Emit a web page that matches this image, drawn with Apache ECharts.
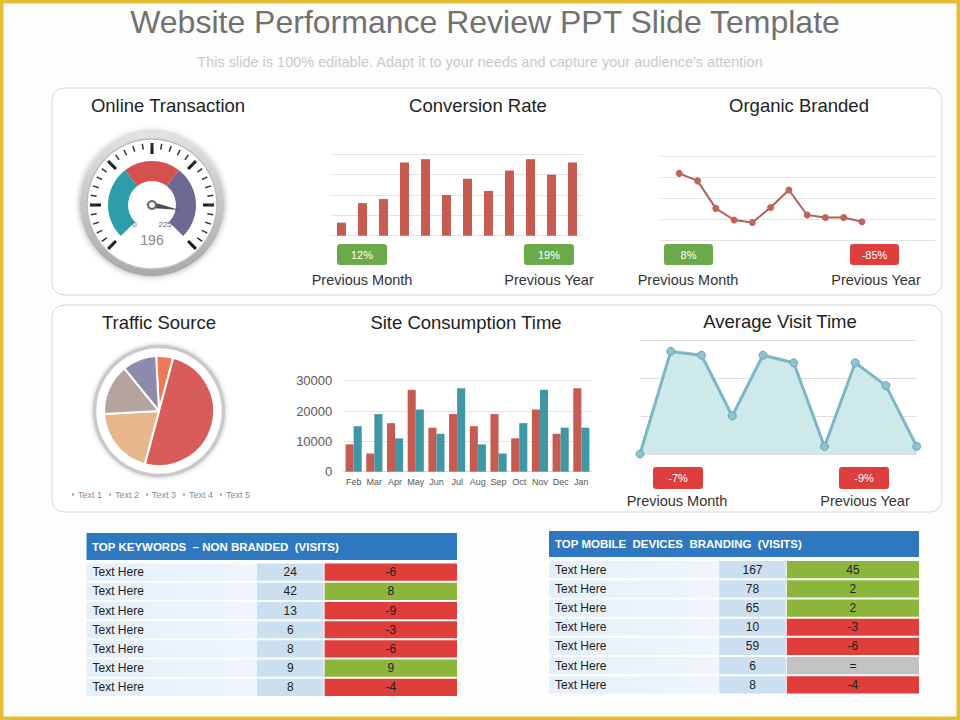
<!DOCTYPE html>
<html><head><meta charset="utf-8">
<script src="https://cdn.jsdelivr.net/npm/echarts@6/dist/echarts.min.js"></script>
<style>html,body{margin:0;padding:0;background:#fff}#c{width:960px;height:720px}</style>
</head><body><div id="c"></div>
<script>
const FONT = '"Liberation Sans", Arial, sans-serif';

// ---------------- DATA ----------------
const gaugeValue = 196;
const gaugeMin = 0;
const gaugeMax = 225;

const conversionMonths = ['Jan','Feb','Mar','Apr','May','Jun','Jul','Aug','Sep','Oct','Nov','Dec'];
const conversionValues = [16, 40, 45, 90, 94, 50, 70, 55, 80, 94, 75, 90];
const conversionBadges = ['12%', '19%'];

const organicValues = [80, 71, 38, 24, 21, 39, 60, 30, 27, 27, 22];
const organicBadges = ['8%', '-85%'];

const trafficLabels = ['Text 1', 'Text 2', 'Text 3', 'Text 4', 'Text 5'];
const trafficValues = [5, 50, 20, 15, 10];

const siteMonths = ['Feb','Mar','Apr','May','Jun','Jul','Aug','Sep','Oct','Nov','Dec','Jan'];
const siteRed  = [9000, 6000, 16000, 27000, 14500, 19000, 15000, 19000, 11000, 20500, 12500, 27500];
const siteTeal = [15000, 19000, 11000, 20500, 12500, 27500, 9000, 6000, 16000, 27000, 14500, 14500];

const visitSlots = ['1','2','3','4','5','6','7','8','9','10'];
const visitValues = [0, 27, 26, 10, 26, 24, 2, 24, 18, 2];
const visitBadges = ['-7%', '-9%'];

const keywordTitle = 'TOP KEYWORDS \u00a0\u2013 NON BRANDED \u00a0(VISITS)';
const keywordLabels = ['Text Here','Text Here','Text Here','Text Here','Text Here','Text Here','Text Here'];
const keywordVisits = [24, 42, 13, 6, 8, 9, 8];
const keywordChange = ['-6', '8', '-9', '-3', '-6', '9', '-4'];

const mobileTitle = 'TOP MOBILE \u00a0DEVICES \u00a0BRANDING \u00a0(VISITS)';
const mobileLabels = ['Text Here','Text Here','Text Here','Text Here','Text Here','Text Here','Text Here'];
const mobileVisits = [167, 78, 65, 10, 59, 6, 8];
const mobileChange = ['45', '2', '2', '-3', '-6', '=', '-4'];

// ---------------- LAYOUT / STYLE ----------------
const RED = '#DE3F3C', GREEN = '#6AAA4B';
const colEdges = [0, 0.46, 0.64, 1];
const rowIds = ['r1','r2','r3','r4','r5','r6','r7'];

function badge(text, x, y, w, h) {
  const fill = text.trim().startsWith('-') ? RED : GREEN;
  return [
    {type:'rect', shape:{x:x, y:y, width:w, height:h, r:3}, style:{fill:fill}},
    {type:'text', x:x + w/2, y:y + h/2, style:{text:text, fill:'#fff', fontSize:11, fontFamily:FONT, align:'center', verticalAlign:'middle'}}
  ];
}
function caption(text, x, y) {
  return {type:'text', x:x, y:y, style:{text:text, fill:'#333', fontSize:14.5, fontFamily:FONT, align:'center', verticalAlign:'middle'}};
}
function makeCells(labels, visits, changes) {
  const cells = [];
  labels.forEach((l, r) => {
    cells.push({col:0, row:r, text:l});
    cells.push({col:1, row:r, text:String(visits[r])});
    cells.push({col:2, row:r, text:changes[r]});
  });
  return cells;
}
function tableRenderer(cells) {
  return function (params, api) {
    const c = cells[params.dataIndex];
    const p0 = api.coord([colEdges[c.col], c.row]);
    const p1 = api.coord([colEdges[c.col + 1], c.row]);
    const h = api.size([0, 1])[1];
    const x = p0[0] + (c.col === 2 ? 1 : 0);
    const w = p1[0] - x;
    const y = p0[1] - h / 2 + 1;
    let fill, tx, align = 'center';
    if (c.col === 0) {
      fill = new echarts.graphic.LinearGradient(0, 0, 1, 0, [{offset:0, color:'#E3EFFA'}, {offset:1, color:'#EFF6FC'}]);
      tx = x + 6; align = 'left';
    } else if (c.col === 1) {
      fill = '#CBDFF1'; tx = x + w / 2;
    } else {
      fill = c.text.startsWith('-') ? '#DF3E3B' : (c.text === '=' ? '#C2C2C2' : '#8CB63A');
      tx = x + w / 2;
    }
    return {type:'group', children:[
      {type:'rect', shape:{x:x, y:y, width:w, height:h - 2}, style:{fill:fill}},
      {type:'text', style:{text:c.text, x:tx, y:p0[1], align:align, verticalAlign:'middle', fontSize:12, fontFamily:FONT, fill:'#222'}}
    ]};
  };
}
const keywordCells = makeCells(keywordLabels, keywordVisits, keywordChange);
const mobileCells = makeCells(mobileLabels, mobileVisits, mobileChange);

const headStyle = {fontSize:18.5, fontWeight:'normal', color:'#222', fontFamily:FONT};

const graphics = [
  {type:'rect', shape:{x:1.5, y:1.5, width:957, height:717}, style:{fill:null, stroke:'#E2BF35', lineWidth:4}},
  {type:'rect', shape:{x:52, y:88, width:890, height:207, r:12}, style:{fill:'#fff', stroke:'#d6d6d6', lineWidth:1}},
  {type:'rect', shape:{x:52, y:305, width:890, height:207, r:12}, style:{fill:'#fff', stroke:'#d6d6d6', lineWidth:1}},
  // gauge bezel
  {type:'circle', shape:{cx:152, cy:204, r:72}, style:{fill:new echarts.graphic.LinearGradient(0,0,0,1,[{offset:0,color:'#e2e2e2'},{offset:1,color:'#a9a9a9'}]), shadowBlur:6, shadowColor:'rgba(0,0,0,0.35)'}},
  {type:'circle', shape:{cx:152, cy:204, r:65}, style:{fill:'#fff', stroke:'#bdbdbd', lineWidth:1.5}},
  // pie ring
  {type:'circle', shape:{cx:159, cy:411, r:64.5}, style:{fill:'#fff', stroke:'#c9c9c9', lineWidth:3.5, shadowBlur:4, shadowColor:'rgba(0,0,0,0.25)'}},
  caption('Previous Month', 362, 280), caption('Previous Year', 549, 280),
  caption('Previous Month', 688, 280), caption('Previous Year', 876, 280),
  caption('Previous Month', 677, 501), caption('Previous Year', 865, 501),
  // table headers
  {type:'rect', shape:{x:86.5, y:533, width:370.5, height:27}, style:{fill:'#2F78C0'}},
  {type:'text', x:92, y:547, style:{text:keywordTitle, fill:'#fff', fontSize:11.5, fontWeight:'bold', fontFamily:FONT, verticalAlign:'middle'}},
  {type:'rect', shape:{x:549, y:531, width:370, height:26}, style:{fill:'#2F78C0'}},
  {type:'text', x:555, y:544, style:{text:mobileTitle, fill:'#fff', fontSize:11.5, fontWeight:'bold', fontFamily:FONT, verticalAlign:'middle'}}
].concat(
  badge(conversionBadges[0], 337, 244, 50, 21), badge(conversionBadges[1], 524, 244, 50, 21),
  badge(organicBadges[0], 664, 244, 49, 21), badge(organicBadges[1], 850, 244, 49, 21),
  badge(visitBadges[0], 653, 467, 50, 22), badge(visitBadges[1], 839, 467, 50, 22)
);

const hiddenVal = (gi, min, max) => ({type:'value', gridIndex:gi, min:min, max:max, show:false});

const option = {
  animation: false,
  backgroundColor: '#fdfdfd',
  textStyle: {fontFamily: FONT},
  title: [
    {text:'Website Performance Review PPT Slide Template', left:480, textAlign:'center', top:1, textStyle:{fontSize:32, fontWeight:'normal', color:'#717171', fontFamily:FONT}},
    {text:"This slide is 100% editable. Adapt it to your needs and capture your audience's attention", left:'center', top:49, textStyle:{fontSize:14.5, fontWeight:'normal', color:'#c9c9c9', fontFamily:FONT}},
    {text:'Online Transaction', left:163, textAlign:'center', top:91, textStyle:headStyle},
    {text:'Conversion Rate', left:473, textAlign:'center', top:91, textStyle:headStyle},
    {text:'Organic Branded', left:794, textAlign:'center', top:91, textStyle:headStyle},
    {text:'Traffic Source', left:154, textAlign:'center', top:308, textStyle:headStyle},
    {text:'Site Consumption Time', left:461, textAlign:'center', top:308, textStyle:headStyle},
    {text:'Average Visit Time', left:775, textAlign:'center', top:307, textStyle:headStyle}
  ],
  legend: {
    data: trafficLabels, left: 65, top: 485, icon: 'rect', itemWidth: 4, itemHeight: 4, itemGap: 5,
    textStyle: {fontSize: 9, color: '#8a8a8a', padding:[0,0,0,-2]}, itemStyle: {color: '#9a9a9a'}, selectedMode: false
  },
  graphic: graphics,
  grid: [
    {left:331, top:154.3, width:252, height:81.4},
    {left:661, top:156.7, width:274, height:83.3},
    {left:343.3, top:380.7, width:248.4, height:91},
    {left:640, top:340, width:276.7, height:114},
    {left:86.5, top:562.5, width:370.5, height:134.5},
    {left:549, top:560, width:370, height:134.5}
  ],
  xAxis: [
    {type:'category', gridIndex:0, data:conversionMonths, show:false},
    hiddenVal(1, 0, 15),
    {type:'category', gridIndex:2, data:siteMonths, axisTick:{show:false}, axisLine:{lineStyle:{color:'#d9d9d9'}},
      axisLabel:{fontSize:9, color:'#555', margin:6, interval:0}},
    {type:'category', gridIndex:3, data:visitSlots, boundaryGap:false, show:false},
    hiddenVal(4, 0, 1),
    hiddenVal(5, 0, 1)
  ],
  yAxis: [
    {type:'value', gridIndex:0, min:0, max:100, interval:25, axisLabel:{show:false}, axisLine:{show:false}, axisTick:{show:false}, splitLine:{lineStyle:{color:'#e3e3e3'}}},
    {type:'value', gridIndex:1, min:0, max:100, interval:25, axisLabel:{show:false}, axisLine:{show:false}, axisTick:{show:false}, splitLine:{lineStyle:{color:'#e3e3e3'}}},
    {type:'value', gridIndex:2, min:0, max:30000, interval:10000, axisLine:{show:false}, axisTick:{show:false},
      axisLabel:{fontSize:13, color:'#595959', margin:11, formatter:(v) => String(v)}, splitLine:{lineStyle:{color:'#e3e3e3'}}},
    {type:'value', gridIndex:3, min:0, max:30, interval:10, axisLabel:{show:false}, axisLine:{show:false}, axisTick:{show:false}, splitLine:{lineStyle:{color:'#dedede'}}},
    {type:'category', gridIndex:4, data:rowIds, inverse:true, show:false},
    {type:'category', gridIndex:5, data:rowIds, inverse:true, show:false}
  ],
  series: [
    {
      type:'gauge', center:[152, 205], radius:62, startAngle:225, endAngle:-45, min:gaugeMin, max:gaugeMax, splitNumber:6,
      axisLine:{show:false, lineStyle:{width:0}},
      splitLine:{length:11, distance:0, lineStyle:{color:'#1a1a1a', width:3}},
      axisTick:{splitNumber:5, length:6, distance:0, lineStyle:{color:'#333', width:1.5}},
      axisLabel:{show:false}, pointer:{show:false}, anchor:{show:false}, title:{show:false}, detail:{show:false},
      data:[{value:gaugeValue}]
    },
    {
      type:'gauge', center:[152, 205], radius:44, startAngle:225, endAngle:-45, min:gaugeMin, max:gaugeMax, splitNumber:1,
      axisLine:{lineStyle:{width:20, color:[[0.36, '#2C9DAB'], [0.64, '#D6504E'], [1, '#6C6A92']]}},
      splitLine:{show:false, length:0}, axisTick:{show:false},
      axisLabel:{distance:6, fontSize:8, color:'#666', formatter:(v) => (v === gaugeMin || v === gaugeMax) ? String(v) : ''},
      pointer:{length:28, width:3, itemStyle:{color:'#4d4d4d'}},
      anchor:{show:true, showAbove:true, size:8, itemStyle:{color:'#fff', borderColor:'#666', borderWidth:2}},
      title:{show:false},
      detail:{offsetCenter:[0, 35], fontSize:14, color:'#888', fontWeight:'normal', formatter:'{value}'},
      data:[{value:gaugeValue}]
    },
    {type:'bar', name:'Conversion', xAxisIndex:0, yAxisIndex:0, data:conversionValues, barWidth:9, itemStyle:{color:'#C65B52'}},
    {type:'line', name:'Organic', xAxisIndex:1, yAxisIndex:1, data:organicValues.map((v, i) => [i + 1, v]),
      symbol:'circle', symbolSize:7, lineStyle:{color:'#B45E55', width:2}, itemStyle:{color:'#C0655B'}},
    {type:'pie', name:'Traffic', center:[159, 411], radius:55, startAngle:93, label:{show:false}, labelLine:{show:false},
      itemStyle:{borderColor:'#fff', borderWidth:2},
      color:['#EE7A55', '#D85C5A', '#E8B68C', '#B7A39E', '#8D8BAB'],
      data: trafficLabels.map((n, i) => ({name:n, value:trafficValues[i]}))},
    {type:'bar', name:'Site A', xAxisIndex:2, yAxisIndex:2, data:siteRed, barGap:'0%', barCategoryGap:'22%', itemStyle:{color:'#C65B52'}},
    {type:'bar', name:'Site B', xAxisIndex:2, yAxisIndex:2, data:siteTeal, barGap:'0%', barCategoryGap:'22%', itemStyle:{color:'#3E97A2'}},
    {type:'line', name:'Visit', xAxisIndex:3, yAxisIndex:3, data:visitValues, symbol:'circle', symbolSize:8,
      lineStyle:{color:'#7DB6C4', width:3}, itemStyle:{color:'#8DC2CE', borderColor:'#6BA7B7', borderWidth:1},
      areaStyle:{color:'#CDE9E9', opacity:1}},
    {type:'custom', name:'Keywords', xAxisIndex:4, yAxisIndex:4, data:keywordCells.map(c => [c.col, c.row]), renderItem:tableRenderer(keywordCells)},
    {type:'custom', name:'Mobile', xAxisIndex:5, yAxisIndex:5, data:mobileCells.map(c => [c.col, c.row]), renderItem:tableRenderer(mobileCells)}
  ]
};

const chart = echarts.init(document.getElementById('c'), null, {renderer:'svg'});
chart.setOption(option);
</script>
</body></html>
